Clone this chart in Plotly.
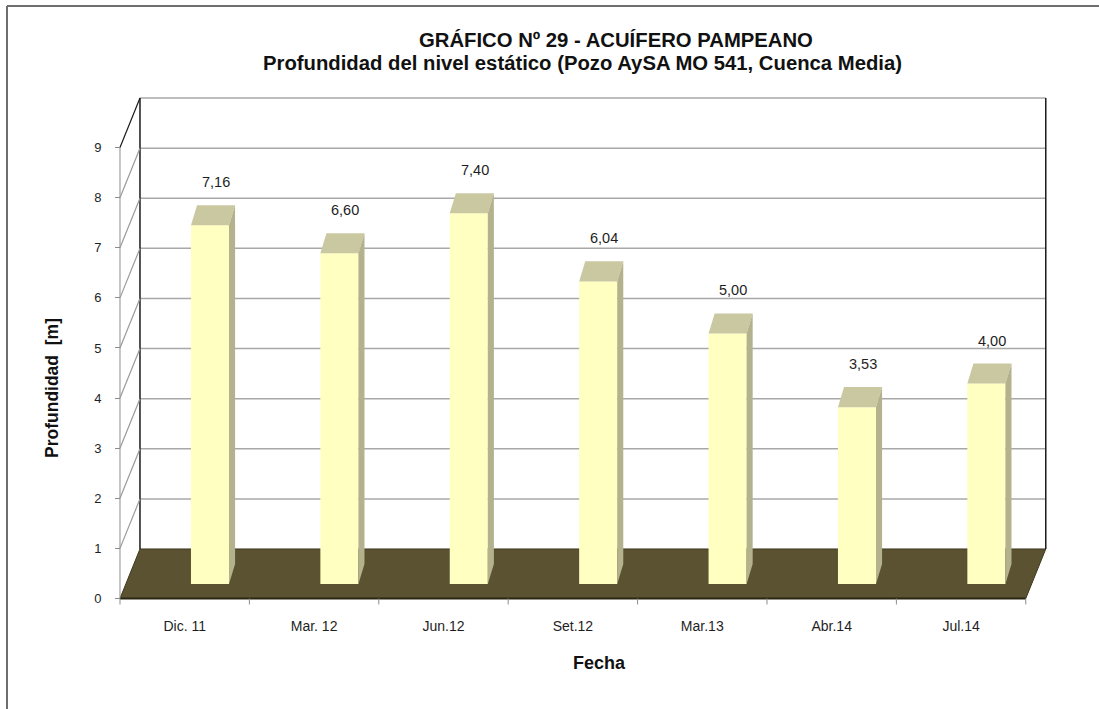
import plotly.graph_objects as go

# ---------------- data ----------------
categories = ["Dic. 11", "Mar. 12", "Jun.12", "Set.12", "Mar.13", "Abr.14", "Jul.14"]
depths = [7.16, 6.60, 7.40, 6.04, 5.00, 3.53, 4.00]
depth_labels = ["7,16", "6,60", "7,40", "6,04", "5,00", "3,53", "4,00"]
y_ticks = [0, 1, 2, 3, 4, 5, 6, 7, 8, 9]
y_max = 9

# ---------------- layout geometry ----------------
W, H = 1099, 709
PL, PR, PT, PB = 100, 1060, 90, 610          # plot area in pixels
XR = [-0.850, 6.569]                          # bar-plane x range (category units)
YR = [-0.519, 9.860]                          # bar-plane y range (metres)

BAR_W = 0.294                                 # bar front-face width
TOP_DX, TOP_DV = 0.047, 0.40                  # bar depth offset
FRONT_DX, FRONT_DV = -0.1955, -0.289          # front plane offset from bar plane
BACK_DX, BACK_DV = -0.041, 0.699              # back plane offset from bar plane
n = len(categories)

def px_x(px):
    return (px - PL) / (PR - PL)

def px_y(py):
    return (PB - py) / (PB - PT)

BAR_FRONT = "#FFFFC2"
BAR_TOP = "#CAC8A0"
BAR_SIDE = "#B4B28C"
FLOOR = "#5A5230"
GRID = "#A8A8A8"

fig = go.Figure()

fig.add_trace(go.Bar(
    x=list(range(n)), y=depths, width=BAR_W,
    marker=dict(color=BAR_FRONT, line=dict(width=0)),
    hovertext=[f"{c}: {l}" for c, l in zip(categories, depth_labels)],
    hoverinfo="text", showlegend=False,
))

# invisible trace to activate the front axes
fig.add_trace(go.Scatter(
    x=[0], y=[0], xaxis="x2", yaxis="y2", mode="markers",
    marker=dict(opacity=0), hoverinfo="skip", showlegend=False,
))

shapes = []
fl_x = -0.5 + FRONT_DX
fr_x = n - 0.5 + FRONT_DX
bl_x = -0.5 + BACK_DX
br_x = n - 0.5 + BACK_DX

# floor
shapes.append(dict(
    type="path", layer="below",
    path=f"M {fl_x},{FRONT_DV} L {fr_x},{FRONT_DV} L {br_x},{BACK_DV} L {bl_x},{BACK_DV} Z",
    fillcolor=FLOOR, line=dict(color="#3E381F", width=1),
))
shapes.append(dict(type="line", layer="below", x0=fl_x, x1=fr_x, y0=FRONT_DV, y1=FRONT_DV,
                   line=dict(color="#2A2614", width=2)))

# back wall gridlines
for t in y_ticks[1:]:
    shapes.append(dict(type="line", layer="below",
                       x0=bl_x, x1=br_x, y0=t + BACK_DV, y1=t + BACK_DV,
                       line=dict(color=GRID, width=1.5)))
# back wall verticals
for xx in (bl_x, br_x):
    shapes.append(dict(type="line", layer="below", x0=xx, x1=xx,
                       y0=BACK_DV, y1=y_max + BACK_DV,
                       line=dict(color="#1A1A1A", width=1.5)))
# left wall
shapes.append(dict(type="line", layer="below", x0=fl_x, x1=fl_x,
                   y0=FRONT_DV, y1=y_max + FRONT_DV,
                   line=dict(color="#8C8C8C", width=1)))
for t in y_ticks[1:]:
    shapes.append(dict(type="line", layer="below",
                       x0=fl_x, x1=bl_x, y0=t + FRONT_DV, y1=t + BACK_DV,
                       line=dict(color="#1A1A1A" if t == y_max else "#9A9A9A",
                                 width=1.2)))
# bottom tick marks
for k in range(n + 1):
    xx = k - 0.5 + FRONT_DX
    shapes.append(dict(type="line", layer="below", x0=xx, x1=xx,
                       y0=FRONT_DV, y1=FRONT_DV - 0.12,
                       line=dict(color="#8C8C8C", width=1)))

# bar top and side faces
for k, v in enumerate(depths):
    x0, x1 = k - BAR_W / 2, k + BAR_W / 2
    shapes.append(dict(
        type="path", layer="above",
        path=f"M {x0},{v} L {x1},{v} L {x1 + TOP_DX},{v + TOP_DV} L {x0 + TOP_DX},{v + TOP_DV} Z",
        fillcolor=BAR_TOP, line=dict(width=0),
    ))
    shapes.append(dict(
        type="path", layer="above",
        path=f"M {x1},0 L {x1},{v} L {x1 + TOP_DX},{v + TOP_DV} L {x1 + TOP_DX},{TOP_DV} Z",
        fillcolor=BAR_SIDE, line=dict(width=0),
    ))

# outer frame (top and left edges)
shapes.append(dict(type="line", xref="paper", yref="paper",
                   x0=px_x(7), x1=px_x(W), y0=px_y(6), y1=px_y(6),
                   line=dict(color="#6E6E6E", width=2)))
shapes.append(dict(type="line", xref="paper", yref="paper",
                   x0=px_x(7), x1=px_x(7), y0=px_y(6), y1=px_y(H),
                   line=dict(color="#6E6E6E", width=2)))

annotations = []
for k, (v, lab) in enumerate(zip(depths, depth_labels)):
    annotations.append(dict(x=k + 0.045, y=v, text=lab, showarrow=False,
                            xanchor="center", yanchor="middle",
                            yshift=43, font=dict(size=14.5, color="#1E1E1E")))

SANS = "Liberation Sans, Arial, sans-serif"
for xp, yp, txt, size, ang in [
    (616, 40, "<b>GRÁFICO Nº 29 - ACUÍFERO PAMPEANO</b>", 20.3, 0),
    (582, 63, "<b>Profundidad del nivel estático (Pozo AySA MO 541, Cuenca Media)</b>", 20.3, 0),
    (52, 388, "<b>Profundidad  [m]</b>", 17.5, -90),
    (599, 663, "<b>Fecha</b>", 18, 0),
]:
    annotations.append(dict(x=px_x(xp), y=px_y(yp), xref="paper", yref="paper",
                            showarrow=False, text=txt, textangle=ang,
                            xanchor="center", yanchor="middle",
                            font=dict(size=size, family=SANS, color="#111")))

fig.update_layout(
    width=W, height=H,
    margin=dict(l=PL, r=W - PR, t=PT, b=H - PB, pad=0),
    paper_bgcolor="white", plot_bgcolor="white",
    font=dict(family=SANS, color="#1E1E1E"),
    xaxis=dict(range=XR, visible=False, fixedrange=True),
    yaxis=dict(range=YR, visible=False, fixedrange=True),
    xaxis2=dict(
        overlaying="x", anchor="free",
        position=(FRONT_DV - YR[0]) / (YR[1] - YR[0]),
        range=[XR[0] - FRONT_DX, XR[1] - FRONT_DX],
        tickmode="array", tickvals=list(range(n)), ticktext=categories,
        ticks="", showgrid=False, zeroline=False, showline=False, fixedrange=True,
        ticklabelstandoff=18, tickfont=dict(size=14, color="#1E1E1E"),
    ),
    yaxis2=dict(
        overlaying="y", anchor="free", side="left",
        position=(fl_x - XR[0]) / (XR[1] - XR[0]),
        range=[YR[0] - FRONT_DV, YR[1] - FRONT_DV],
        tickmode="array", tickvals=y_ticks,
        ticks="outside", ticklen=5, tickcolor="#8C8C8C",
        showgrid=False, zeroline=False, showline=False, fixedrange=True,
        ticklabelstandoff=11, tickfont=dict(size=13, color="#1E1E1E"),
    ),
    shapes=shapes, annotations=annotations,
)

fig.write_html(
    "out.html",
    config={"displayModeBar": False},
    post_script="document.body.style.margin='0';document.body.style.overflow='hidden';",
)
